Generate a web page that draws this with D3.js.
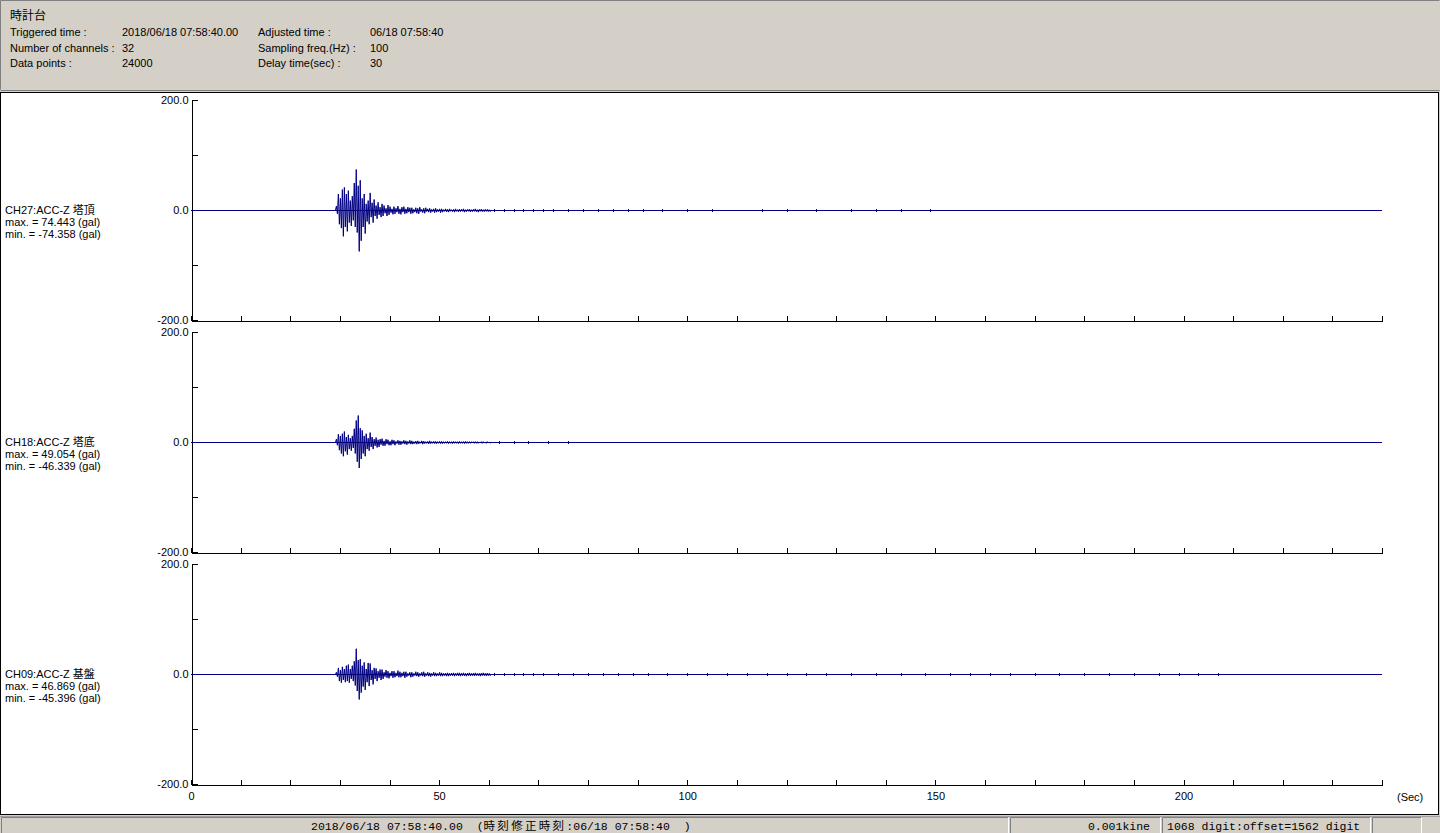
<!DOCTYPE html>
<html><head><meta charset="utf-8">
<script src="https://cdn.jsdelivr.net/npm/d3@7"></script>
<style>
html,body{margin:0;padding:0;background:#d4d0c8;overflow:hidden}
svg{display:block}
text{font-family:"Liberation Sans",Arial,"Noto Sans CJK JP",sans-serif;font-size:11px;fill:#000}
.mono{font-family:"Liberation Mono","DejaVu Sans Mono","Noto Sans CJK JP",monospace;font-size:11.5px}
</style></head><body>
<svg id="c" width="1440" height="833"></svg>
<script>
// ---------------- data ----------------
const headerTitle = "時計台";
const headerLabels1 = ["Triggered time :", "Number of channels :", "Data points :"];
const headerValues1 = ["2018/06/18 07:58:40.00", "32", "24000"];
const headerLabels2 = ["Adjusted time :", "Sampling freq.(Hz) :", "Delay time(sec) :"];
const headerValues2 = ["06/18 07:58:40", "100", "30"];

const channelNames = ["CH27:ACC-Z 塔頂", "CH18:ACC-Z 塔底", "CH09:ACC-Z 基盤"];
const channelMax = ["74.443", "49.054", "46.869"];
const channelMin = ["-74.358", "-46.339", "-45.396"];

const yTickValues = [200, 100, 0, -100, -200];
const yTickLabels = {"200": "200.0", "0": "0.0", "-200": "-200.0"};
const xTickValues = [0,10,20,30,40,50,60,70,80,90,100,110,120,130,140,150,160,170,180,190,200,210,220,230,240];
const xTickLabels = {"0":"0","50":"50","100":"100","150":"150","200":"200"};
const xUnit = "(Sec)";

// envelope of the main shaking, one entry every 0.4 s from 29.2 s
const burstStart = 29.2, burstStep = 0.4;
const hi27 = [8,30,22,38,42,30,36,18,26,50,74.443,45,55,22,30,12,18,32,14,20,9,15,6,12,9,4,10,7,3,
  7,4,8,3,6,7,3,6,5,
  5,2,5,4,6,2,4,5,3,4,2,3,4,2,3,
  3,1.5,3,2,3,1.5,2,3,1.5,2.5,2,3,1.5,2,2.5,1.5,2,3,1.5,2,2.5,1.5,2,2,1.5];
const lo27 = [-6,-25,-32,-47,-30,-38,-22,-28,-18,-30,-40,-74.358,-55,-30,-42,-20,-25,-12,-22,-10,-15,-8,-12,-10,-5,-10,-8,-4,-7,
  -6,-3,-6,-7,-3,-6,-5,-3,-6,
  -5,-3,-5,-6,-2,-4,-5,-2,-3,-4,-2,-4,-3,-2,-4,
  -3,-1.5,-2.5,-3,-1.5,-2,-3,-1.5,-2.5,-2,-1.5,-3,-2,-1.5,-2.5,-2,-1.5,-2,-3,-1.5,-2,-2,-1.5,-2,-2];
const hi18 = [6,15,12,16,20,10,14,8,12,25,40,49.054,26,22,12,16,8,18,10,6,9,5,6,7,3,6,5,2,5,
  4,2,4,3,2,4,3,2,4,
  3,1.5,2.5,3,1.5,3,2.5,1.5,2,3,1.5,2,2,1.5,2,
  2,1.5,1.5,2,1.5,1.5,2,1.5,1.5,2,1.5,1.5,2,1.5,1.5,1.5,1.5,1.5,1.5,1,1.5,1.5,1,1.5,1];
const lo18 = [-5,-14,-20,-25,-16,-22,-12,-15,-10,-20,-35,-46.339,-30,-20,-25,-12,-15,-8,-12,-6,-9,-8,-4,-6,-6,-3,-5,-5,-3,
  -5,-2,-4,-4,-2,-3,-4,-2,-3,
  -3,-2,-3,-2.5,-1.5,-3,-2,-1.5,-2.5,-2,-1.5,-2,-2,-1.5,-2,
  -2,-1.5,-1.5,-2,-1.5,-2,-1.5,-1.5,-2,-1.5,-1.5,-2,-1.5,-1.5,-1.5,-1,-1.5,-1.5,-1.5,-1,-1.5,-1,-1.5,-1,-1];
const hi09 = [4,12,8,14,10,16,18,10,16,24,46.869,26,28,16,22,10,21,20,8,12,11,6,9,9,4,8,6,3,6,
  6,3,7,5,3,5,5,2,4,
  4,2,5,4,2,4,5,2,4,3,2,4,3,2,4,
  3,2,2.5,3,2,2.5,3,2,3,3,2,3,2,2.5,3,2,2.5,3,2,2,2.5,3,2,2.5,2];
const lo09 = [-4,-12,-15,-10,-14,-12,-15,-8,-12,-20,-30,-45.396,-33,-22,-28,-14,-21,-10,-18,-8,-12,-6,-10,-8,-4,-6,-7,-3,-6,
  -5,-3,-5,-5,-3,-6,-4,-2,-5,
  -4,-2,-3,-4,-2,-3,-4,-2,-3,-4,-2,-3,-3,-2,-3,
  -3,-2,-3,-3,-2,-2,-3,-2,-2.5,-3,-2,-2.5,-3,-2,-2.5,-2,-2.5,-2,-2,-3,-2,-2,-2.5,-2,-2];

// small late spikes [time s, amplitude gal]
const tail27 = [[61,1.2],[63,1.6],[65,1.2],[67,1.2],[69,1.6],[71,1.2],[73,1.2],[76,1.2],[79,1],[82,1.2],[85,1],[88,1.2],[91,1],[95,1],[100,1],[105,1],[115,1.6],[120,1],[126,1],[133,1.2],[138,1],[143,1.6],[149,1]];
const tail18 = [[62,1],[65,1],[68,1],[72,1],[76,1.2]];
const tail09 = [[61,1.6],[63,1.2],[65,1.6],[67,1.2],[69,1.6],[71,1.2],[74,1.2],[77,1.6],[80,1.2],[83,1.2],[86,1.2],[89,1.2],[92,1.2],[96,1.2],[100,1.2],[104,1.2],[108,1.2],[112,1],[116,1.2],[120,1.2],[124,1.2],[128,1.2],[133,1.6],[138,1.2],[143,1.2],[148,1.2],[153,1.2],[157,1.2],[161,1.6],[165,1.2],[170,1.2],[175,1.6],[180,1.2],[185,1.2],[190,1.6],[195,1.2],[199,1.6],[203,1.2],[207,1.2]];

const channelHi = [hi27, hi18, hi09];
const channelLo = [lo27, lo18, lo09];
const channelTail = [tail27, tail18, tail09];

const statusDate = "2018/06/18 07:58:40.00";
const statusCorr = "時刻修正時刻";
const statusCorrTime = ":06/18 07:58:40  )";
const statusUnit = "0.001kine";
const statusDigit = "1068 digit:offset=1562 digit";

// ---------------- drawing ----------------
const W = 1440, H = 833;
const svg = d3.select("#c");
const WAVE = "#000080";

svg.append("rect").attr("width", W).attr("height", H).attr("fill", "#d4d0c8");

// header frame
svg.append("path").attr("d", "M0.5,89.5V0.5H1439.5").attr("fill","none").attr("stroke","#808080");
svg.append("path").attr("d", "M0.5,90.5H1439.5").attr("fill","none").attr("stroke","#808080");

// header text
svg.append("text").attr("x", 10).attr("y", 20).style("font-size","12px").text(headerTitle);
const rowsY = [36, 52, 67];
headerLabels1.forEach((t,i) => {
  svg.append("text").attr("x", 10).attr("y", rowsY[i]).text(t);
  svg.append("text").attr("x", 122).attr("y", rowsY[i]).text(headerValues1[i]);
  svg.append("text").attr("x", 258).attr("y", rowsY[i]).text(headerLabels2[i]);
  svg.append("text").attr("x", 370).attr("y", rowsY[i]).text(headerValues2[i]);
});

// white plotting panel
svg.append("rect").attr("x", 0.5).attr("y", 92.5).attr("width", 1438).attr("height", 722)
  .attr("fill", "#fff").attr("stroke", "#000");

const x = d3.scaleLinear().domain([0, 240]).range([191, 1382]);

channelNames.forEach((name, k) => {
  const top = 100 + 232 * k;
  const y = d3.scaleLinear().domain([-200, 200]).range([top + 220, top]);
  const g = svg.append("g");

  // left axis
  const ya = d3.axisLeft(y).tickValues(yTickValues).tickSize(-6).tickSizeOuter(0).tickPadding(3)
    .tickFormat(d => yTickLabels[String(d)] || "");
  const gy = g.append("g").attr("transform", "translate(191.5,0)").call(ya);
  gy.selectAll("path,line").attr("stroke", "#000").attr("shape-rendering", "crispEdges");
  gy.selectAll("text").attr("fill", "#000").style("font-size", "11px")
    .style("font-family", '"Liberation Sans",Arial,sans-serif');

  // bottom axis
  const xa = d3.axisBottom(x).tickValues(xTickValues).tickSize(-5).tickSizeOuter(0).tickPadding(8)
    .tickFormat(d => (k === 2 ? (xTickLabels[String(d)] || "") : ""));
  const gx = g.append("g").attr("transform", `translate(0,${y(-200) + 0.5})`).call(xa);
  gx.selectAll("path,line").attr("stroke", "#000").attr("shape-rendering", "crispEdges");
  gx.selectAll("text").attr("fill", "#000").style("font-size", "11px")
    .style("font-family", '"Liberation Sans",Arial,sans-serif');

  // zero line
  g.append("line").attr("x1", x(0)).attr("x2", x(240)).attr("y1", y(0) + 0.5).attr("y2", y(0) + 0.5)
    .attr("stroke", WAVE).attr("shape-rendering", "crispEdges");

  // burst zigzag
  const hi = channelHi[k], lo = channelLo[k];
  const pts = [[burstStart - burstStep / 2, 0]];
  hi.forEach((v, i) => {
    const t = burstStart + i * burstStep;
    pts.push([t, v]);
    pts.push([t + burstStep / 2, lo[i]]);
  });
  pts.push([burstStart + hi.length * burstStep, 0]);
  const line = d3.line().x(d => x(d[0]) + 0.5).y(d => y(d[1]) + 0.5);
  g.append("path").attr("d", line(pts)).attr("fill", "none").attr("stroke", WAVE).attr("stroke-width", 1);

  // late small spikes
  const tp = d3.path();
  channelTail[k].forEach(([t, a]) => {
    tp.moveTo(Math.round(x(t)) + 0.5, Math.floor(y(a)));
    tp.lineTo(Math.round(x(t)) + 0.5, Math.ceil(y(-a)) + 1);
  });
  g.append("path").attr("d", tp.toString()).attr("fill", "none").attr("stroke", WAVE);

  // channel label
  const zy = y(0);
  g.append("text").attr("x", 5).attr("y", zy + 4).text(name);
  g.append("text").attr("x", 5).attr("y", zy + 16).text("max. = " + channelMax[k] + " (gal)");
  g.append("text").attr("x", 5).attr("y", zy + 28).text("min. = " + channelMin[k] + " (gal)");
});

// x unit
svg.append("text").attr("x", 1397).attr("y", 801).text(xUnit);

// status bar
svg.append("line").attr("x1", 0).attr("x2", W).attr("y1", 816.5).attr("y2", 816.5).attr("stroke", "#a0a0a0");
[[1, 1008], [1010, 1160], [1162, 1370], [1372, 1421]].forEach(([a, b]) => {
  svg.append("path").attr("d", `M${a + 0.5},833V817.5H${b + 0.5}`).attr("fill", "none").attr("stroke", "#808080");
  svg.append("path").attr("d", `M${b + 0.5},817.5V833`).attr("fill", "none").attr("stroke", "#fff");
});
const st = svg.append("text").attr("class", "mono").attr("x", 311).attr("y", 829.5).attr("xml:space", "preserve");
st.append("tspan").text(statusDate + "  (");
st.append("tspan").style("letter-spacing", "2.3px").text(statusCorr);
st.append("tspan").text(statusCorrTime);
svg.append("text").attr("class", "mono").attr("x", 1150).attr("y", 829.5).attr("text-anchor", "end").text(statusUnit);
svg.append("text").attr("class", "mono").attr("x", 1167).attr("y", 829.5).text(statusDigit);
</script>
</body></html>
